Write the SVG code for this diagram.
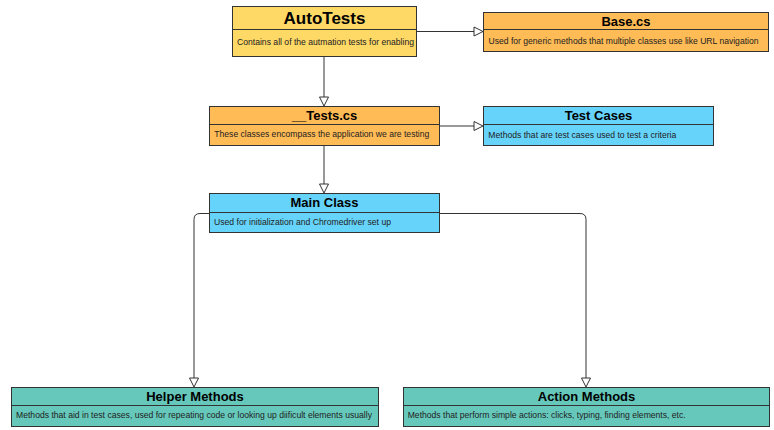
<svg xmlns="http://www.w3.org/2000/svg" width="774" height="430" viewBox="0 0 774 430">
<defs>
<style>
.box{stroke:#333;stroke-width:1}
.yel{fill:#FFD966}
.org{fill:#FFBB55}
.blu{fill:#66D3FA}
.tea{fill:#66C8BB}
.div{stroke:#333;stroke-width:1;fill:none}
.t{font-family:"Liberation Sans",Arial,sans-serif;font-weight:bold;font-size:13px;fill:#000;text-anchor:middle}
.b{font-family:"Liberation Sans",Arial,sans-serif;font-size:8.6px;fill:#222}
.edge{stroke:#333;stroke-width:1;fill:none}
.ah{fill:#fff;stroke:#333;stroke-width:1}
</style>
</defs>
<rect width="774" height="430" fill="#fff"/>
<g id="connectors">
<path class="edge" d="M416,31.5 H474"/>
<polygon class="ah" points="474,27 483,31.5 474,36"/>
<path class="edge" d="M324,56 V97"/>
<polygon class="ah" points="319.5,97 324,106 328.5,97"/>
<path class="edge" d="M439,126 H474"/>
<polygon class="ah" points="474,121.5 483,126 474,130.5"/>
<path class="edge" d="M324,145 V184"/>
<polygon class="ah" points="319.5,184 324,193 328.5,184"/>
<path class="edge" d="M209,213.5 H200 Q194,213.5 194,219.5 V378"/>
<polygon class="ah" points="189.5,378 194,387 198.5,378"/>
<path class="edge" d="M439,213.5 H580 Q586,213.5 586,219.5 V378"/>
<polygon class="ah" points="581.5,378 586,387 590.5,378"/>
</g>
<g id="autotests">
<rect class="box yel" x="232.5" y="6.5" width="184" height="50"/>
<path class="div" d="M232.5,29.5 H416.5"/>
<text class="t" x="324.5" y="24" style="font-size:17px">AutoTests</text>
<text class="b" x="237" y="44.5" textLength="177" lengthAdjust="spacingAndGlyphs">Contains all of the autmation tests for enabling</text>
</g>
<g id="base">
<rect class="box org" x="483.5" y="12.5" width="285" height="39"/>
<path class="div" d="M483.5,29.5 H768.5"/>
<text class="t" x="626" y="25.5">Base.cs</text>
<text class="b" x="488.5" y="43.5" textLength="270" lengthAdjust="spacingAndGlyphs">Used for generic methods that multiple classes use like URL navigation</text>
</g>
<g id="tests">
<rect class="box org" x="209.5" y="106.5" width="230" height="39"/>
<path class="div" d="M209.5,124.5 H439.5"/>
<text class="t" x="324.5" y="119.5">__Tests.cs</text>
<text class="b" x="214.3" y="137" textLength="215" lengthAdjust="spacingAndGlyphs">These classes encompass the application we are testing</text>
</g>
<g id="testcases">
<rect class="box blu" x="483.5" y="106.5" width="230" height="39"/>
<path class="div" d="M483.5,124.5 H713.5"/>
<text class="t" x="598.5" y="119.5">Test Cases</text>
<text class="b" x="488.3" y="138" textLength="188" lengthAdjust="spacingAndGlyphs">Methods that are test cases used to test a criteria</text>
</g>
<g id="mainclass">
<rect class="box blu" x="209.5" y="193.5" width="230" height="39"/>
<path class="div" d="M209.5,212.5 H439.5"/>
<text class="t" x="324.5" y="207">Main Class</text>
<text class="b" x="214" y="224.5" textLength="177" lengthAdjust="spacingAndGlyphs">Used for initialization and Chromedriver set up</text>
</g>
<g id="helper">
<rect class="box tea" x="11.5" y="387.5" width="367" height="39"/>
<path class="div" d="M11.5,405.5 H378.5"/>
<text class="t" x="195" y="401">Helper Methods</text>
<text class="b" x="16" y="418" textLength="356" lengthAdjust="spacingAndGlyphs">Methods that aid in test cases, used for repeating code or looking up diificult elements usually</text>
</g>
<g id="action">
<rect class="box tea" x="403.5" y="387.5" width="366" height="39"/>
<path class="div" d="M403.5,405.5 H769.5"/>
<text class="t" x="586.5" y="401">Action Methods</text>
<text class="b" x="407.7" y="418" textLength="278" lengthAdjust="spacingAndGlyphs">Methods that perform simple actions: clicks, typing, finding elements, etc.</text>
</g>
</svg>
